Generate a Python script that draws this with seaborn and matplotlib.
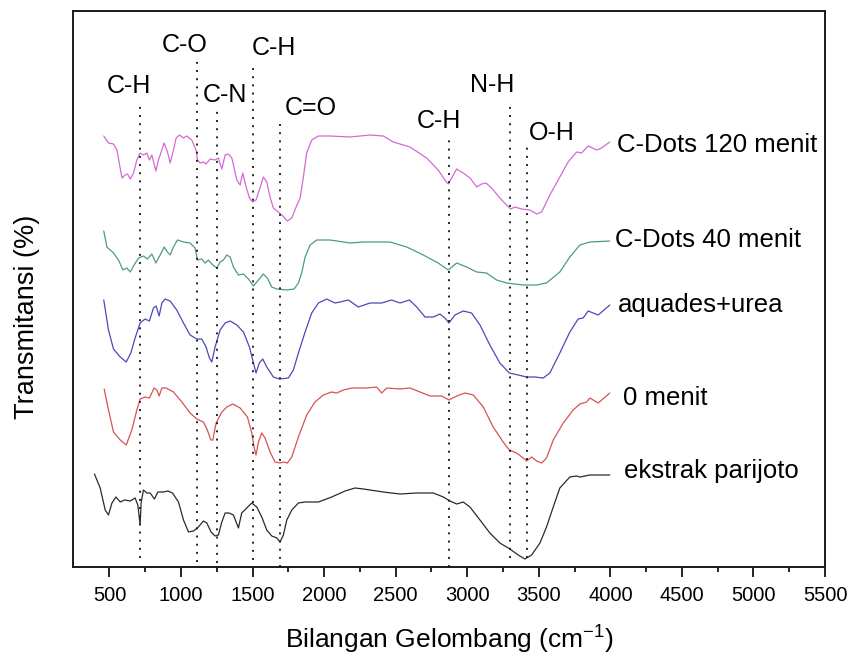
import numpy as np
import pandas as pd
import matplotlib
matplotlib.use("Agg")
import matplotlib.pyplot as plt
import seaborn as sns

# ---------------- data (arbitrary transmittance units) -------------
wn_c120 = [460, 493, 528, 552, 587, 610, 626, 645, 668, 691, 714, 737, 761, 779, 796, 824, 842, 882, 905, 924,
           947, 966, 989, 1017, 1040, 1075, 1105, 1115, 1133, 1156, 1175, 1203, 1238, 1261, 1285, 1308, 1331, 1355,
           1390, 1413, 1431, 1455, 1478, 1501, 1524, 1547, 1575, 1599, 1622, 1645, 1680, 1711, 1743, 1774, 1804,
           1832, 1855, 1878, 1913, 1960, 2041, 2181, 2321, 2413, 2483, 2600, 2716, 2797, 2844, 2867, 2891, 2926,
           2972, 3019, 3066, 3100, 3131, 3170, 3228, 3275, 3303, 3333, 3380, 3438, 3485, 3520, 3577, 3647, 3705,
           3764, 3799, 3845, 3904, 3938, 3996]
t_c120 = [431, 424, 423, 417, 389, 392, 393, 388, 394, 407, 414, 412, 414, 407, 412, 396, 407, 424, 415, 404,
          417, 429, 432, 429, 431, 427, 417, 407, 404, 405, 403, 408, 407, 409, 398, 412, 413, 409,
          387, 382, 394, 380, 369, 365, 367, 377, 390, 385, 370, 359, 355, 351, 346, 349, 360,
          369, 390, 414, 427, 431, 431, 430, 432, 431, 425, 420, 409, 397, 387, 383, 389, 398,
          394, 389, 380, 383, 384, 379, 369, 362, 358, 360, 358, 357, 353, 355, 372, 390, 405,
          415, 414, 421, 417, 419, 425]

wn_c40 = [460, 482, 528, 563, 594, 621, 645, 672, 703, 737, 765, 796, 824, 854, 882, 905, 924, 947, 975, 1017,
          1063, 1098, 1115, 1145, 1168, 1191, 1222, 1250, 1273, 1296, 1320, 1343, 1366, 1401, 1436, 1471, 1506,
          1541, 1575, 1603, 1634, 1669, 1739, 1790, 1820, 1843, 1867, 1902, 1948, 2041, 2181, 2274, 2460, 2577,
          2693, 2797, 2867, 2926, 2996, 3066, 3135, 3205, 3275, 3391, 3485, 3554, 3647, 3717, 3787, 3857, 3996]
t_c40 = [336, 320, 314, 307, 297, 299, 295, 302, 309, 311, 308, 313, 304, 312, 320, 315, 312, 320, 327, 325,
         324, 319, 307, 308, 304, 307, 302, 299, 305, 307, 312, 310, 300, 292, 293, 288, 281,
         287, 293, 289, 280, 278, 277, 278, 284, 294, 310, 322, 327, 327, 324, 325, 325, 320,
         312, 304, 297, 304, 300, 295, 294, 287, 284, 282, 282, 284, 295, 310, 322, 325, 326]

wn_urea = [460, 493, 528, 575, 617, 649, 679, 714, 749, 779, 807, 826, 847, 866, 889, 924, 970, 1017, 1063, 1110,
           1145, 1175, 1198, 1215, 1238, 1273, 1308, 1343, 1390, 1436, 1478, 1506, 1524, 1547, 1571, 1599, 1645,
           1687, 1750, 1785, 1820, 1867, 1913, 1960, 2018, 2046, 2076, 2111, 2169, 2239, 2321, 2402, 2472, 2530,
           2596, 2647, 2705, 2763, 2809, 2844, 2872, 2914, 2972, 3030, 3089, 3158, 3228, 3294, 3356, 3415, 3473,
           3531, 3577, 3647, 3717, 3775, 3810, 3845, 3915, 3996]
t_urea = [267, 237, 218, 210, 205, 214, 229, 244, 248, 246, 259, 261, 251, 264, 268, 266, 257, 244, 232, 228,
          228, 220, 209, 205, 220, 237, 244, 246, 242, 235, 220, 204, 194, 204, 208, 200, 190,
          188, 189, 197, 214, 235, 254, 264, 268, 266, 264, 265, 267, 260, 264, 264, 267, 264,
          267, 260, 250, 250, 253, 249, 244, 252, 256, 254, 242, 222, 204, 194, 192, 190, 190,
          189, 194, 214, 235, 248, 249, 256, 252, 262]

wn_0 = [463, 493, 528, 575, 617, 656, 691, 714, 749, 779, 812, 831, 847, 866, 896, 947, 1006, 1063, 1110, 1156,
        1184, 1208, 1222, 1245, 1285, 1320, 1362, 1413, 1464, 1494, 1510, 1524, 1541, 1564, 1587, 1622, 1657,
        1692, 1715, 1743, 1774, 1820, 1878, 1936, 1994, 2053, 2088, 2134, 2192, 2297, 2367, 2402, 2437, 2530,
        2600, 2670, 2740, 2821, 2872, 2926, 2984, 3042, 3112, 3181, 3251, 3294, 3345, 3391, 3415, 3450, 3485,
        3520, 3554, 3601, 3671, 3740, 3787, 3834, 3857, 3915, 3996]
t_0 = [178, 157, 135, 127, 122, 137, 157, 168, 170, 169, 179, 177, 171, 179, 179, 175, 165, 154, 148, 145,
       137, 127, 127, 144, 155, 160, 163, 159, 150, 134, 120, 112, 125, 134, 129, 115, 105,
       104, 105, 104, 110, 130, 152, 165, 172, 175, 174, 177, 179, 179, 180, 174, 179, 178,
       179, 175, 171, 171, 167, 171, 174, 172, 160, 140, 125, 117, 114, 109, 106, 110, 106,
       104, 109, 127, 144, 157, 163, 165, 169, 164, 174]

wn_ext = [395, 435, 470, 493, 517, 545, 575, 605, 645, 679, 698, 714, 721, 737, 761, 784, 814, 838, 877, 908,
          940, 982, 1017, 1052, 1087, 1121, 1156, 1180, 1210, 1238, 1261, 1285, 1308, 1336, 1366, 1401, 1424,
          1459, 1494, 1529, 1564, 1599, 1634, 1669, 1692, 1715, 1739, 1774, 1820, 1867, 1960, 2053, 2146, 2216,
          2274, 2413, 2530, 2647, 2763, 2833, 2879, 2926, 2972, 3019, 3089, 3158, 3228, 3298, 3356, 3403, 3450,
          3508, 3554, 3601, 3647, 3717, 3764, 3787, 3857, 3996]
t_ext = [93, 79, 57, 52, 64, 70, 65, 67, 66, 69, 62, 42, 64, 77, 74, 74, 68, 75, 75, 76,
         74, 65, 47, 35, 36, 40, 46, 44, 35, 31, 32, 45, 54, 54, 52, 39, 54,
         59, 64, 60, 50, 37, 31, 29, 25, 32, 47, 57, 64, 65, 65, 70, 76, 79,
         78, 75, 73, 74, 74, 70, 66, 63, 65, 60, 47, 34, 24, 18, 12, 8, 12,
         24, 40, 60, 79, 90, 91, 90, 92, 92]

samples = ["C-Dots 120 menit", "C-Dots 40 menit", "aquades+urea", "0 menit", "ekstrak parijoto"]
colors = ["#d46ad4", "#4e9a88", "#4a4ab8", "#d85252", "#2b2b2b"]

# peak assignment markers
band_labels = ["C-H", "C-O", "C-N", "C-H", "C=O", "C-H", "N-H", "O-H"]
band_wn = [715, 1110, 1250, 1500, 1690, 2875, 3300, 3420]
band_top = [462, 507, 460, 502, 449, 432, 464, 420]
band_bottom = [9, 5, 4, 7, 0, 0, 9, 9]
band_text_wn = [638, 1022, 1308, 1650, 1908, 2802, 3176, 3589]
band_text_t = [474, 515, 465, 512, 452, 439, 475, 427]

series_label_wn = [4043, 4031, 4052, 4090, 4095]
series_label_t = [415, 320, 255, 162, 89]

xticks = [500, 1000, 1500, 2000, 2500, 3000, 3500, 4000, 4500, 5000, 5500]

# ---------------- build table ----------------
frames = []
for name, w, t in zip(samples,
                      [wn_c120, wn_c40, wn_urea, wn_0, wn_ext],
                      [t_c120, t_c40, t_urea, t_0, t_ext]):
    frames.append(pd.DataFrame({"wn": w, "T": t, "sample": name}))
df = pd.concat(frames, ignore_index=True)

sns.set_style("white")
plt.rcParams["font.family"] = ["Liberation Sans", "DejaVu Sans"]
plt.rcParams["mathtext.fontset"] = "custom"
plt.rcParams["mathtext.rm"] = "Liberation Sans"
plt.rcParams["text.color"] = "black"
plt.rcParams["axes.labelcolor"] = "black"
plt.rcParams["xtick.color"] = "black"
plt.rcParams["ytick.color"] = "black"

fig = plt.figure(figsize=(8.51, 6.54), dpi=100)
ax = fig.add_axes([73 / 851, 1 - 567 / 654, 752 / 851, 556 / 654])

sns.lineplot(data=df, x="wn", y="T", hue="sample", palette=dict(zip(samples, colors)),
             estimator=None, sort=False, legend=False, lw=0.9, ax=ax)

ax.vlines(band_wn, band_bottom, band_top, colors="#222222", linestyles=(0, (1, 3.2)), lw=1.4)
for lab, x, y in zip(band_labels, band_text_wn, band_text_t):
    ax.text(x, y, lab, ha="center", va="baseline", fontsize=18, color="black")
for lab, x, y in zip(samples, series_label_wn, series_label_t):
    ax.text(x, y, lab, ha="left", va="baseline", fontsize=18.5, color="black")

ax.set_xlim(245, 5500)
ax.set_ylim(0, 556)
ax.set_xticks(xticks)
ax.set_xticklabels([str(v) for v in xticks])
ax.set_xticks(np.arange(750, 5500, 500), minor=True)
ax.set_yticks([])
ax.tick_params(axis="x", which="major", direction="out", length=7, width=1.2, pad=7,
               labelsize=14.5, bottom=True, top=False, colors="black")
ax.tick_params(axis="x", which="minor", direction="out", length=3.5, width=1.2, bottom=True, top=False,
               colors="black")
for s in ax.spines.values():
    s.set_linewidth(1.4)
    s.set_color("#1a1a1a")

ax.set_xlabel("Bilangan Gelombang (cm$^{-1}$)", fontsize=19, labelpad=12, color="black")
ax.set_ylabel("")
fig.text(27 / 851, 1 - 317 / 654, "Transmitansi (%)", rotation=90, ha="center", va="center",
         fontsize=19.5, color="black")

fig.savefig("out.png", dpi=100)
